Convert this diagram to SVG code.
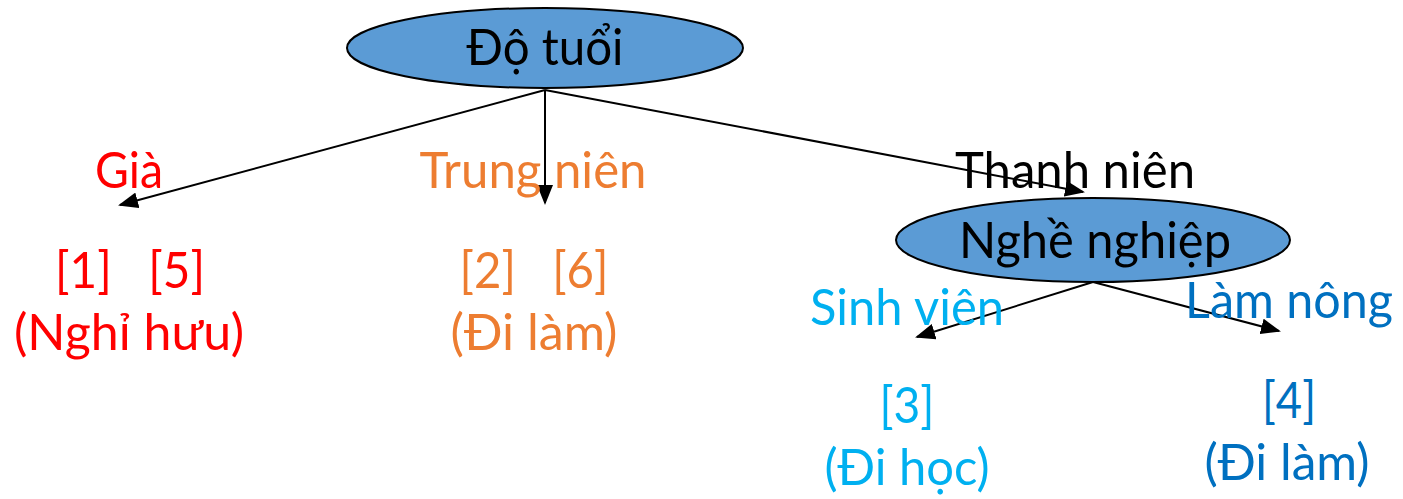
<svg xmlns="http://www.w3.org/2000/svg" width="1403" height="499" viewBox="0 0 1403 499">
<style>
text{font-family:Lato,"Open Sans","Liberation Sans",sans-serif;font-size:50px;text-anchor:middle}
.node{fill:#5B9BD5;stroke:#000;stroke-width:2}
.edge{stroke:#000;stroke-width:2;fill:none;marker-end:url(#ah)}
.red{fill:#FF0000}.org{fill:#ED7D31}.cyan{fill:#00B0F0}.blue{fill:#0070C0}.blk{fill:#000}
</style>
<defs>
<marker id="ah" markerWidth="10" markerHeight="8" refX="9" refY="4" orient="auto" markerUnits="strokeWidth">
<path d="M0,0 L10,4 L0,8 Z" fill="#000"/>
</marker>
</defs>
<rect width="1403" height="499" fill="#fff"/>
<g id="connectors">
<line class="edge" x1="545" y1="90" x2="120" y2="205"/>
<line class="edge" x1="545" y1="90" x2="545" y2="203"/>
<line class="edge" x1="545" y1="90" x2="1083" y2="192"/>
<line class="edge" x1="1093" y1="282" x2="917" y2="337"/>
<line class="edge" x1="1093" y1="282" x2="1279" y2="331"/>
</g>
<g id="do-tuoi">
<ellipse class="node" cx="545" cy="48" rx="198" ry="40"/>
<text class="blk" x="545" y="65" textLength="157" lengthAdjust="spacingAndGlyphs">Độ tuổi</text>
</g>
<g id="gia">
<text class="red" x="129" y="188" textLength="68" lengthAdjust="spacingAndGlyphs">Già</text>
<text class="red" x="130" y="288" xml:space="preserve" textLength="150" lengthAdjust="spacingAndGlyphs">[1]   [5]</text>
<text class="red" x="129" y="350" textLength="230" lengthAdjust="spacingAndGlyphs">(Nghỉ hưu)</text>
</g>
<g id="trung-nien">
<text class="org" x="533" y="188" textLength="227" lengthAdjust="spacingAndGlyphs">Trung niên</text>
<text class="org" x="534" y="288" xml:space="preserve" textLength="149" lengthAdjust="spacingAndGlyphs">[2]   [6]</text>
<text class="org" x="534" y="350" textLength="167" lengthAdjust="spacingAndGlyphs">(Đi làm)</text>
</g>
<g id="thanh-nien">
<text class="blk" x="1075" y="188" textLength="240" lengthAdjust="spacingAndGlyphs">Thanh niên</text>
</g>
<g id="nghe-nghiep">
<ellipse class="node" cx="1093" cy="240" rx="197" ry="42"/>
<text class="blk" x="1095" y="258" textLength="272" lengthAdjust="spacingAndGlyphs">Nghề nghiệp</text>
</g>
<g id="sinh-vien">
<text class="cyan" x="907" y="325" textLength="194" lengthAdjust="spacingAndGlyphs">Sinh viên</text>
<text class="cyan" x="907" y="423" textLength="55" lengthAdjust="spacingAndGlyphs">[3]</text>
<text class="cyan" x="907" y="485" textLength="165" lengthAdjust="spacingAndGlyphs">(Đi học)</text>
</g>
<g id="lam-nong">
<text class="blue" x="1289" y="318" textLength="208" lengthAdjust="spacingAndGlyphs">Làm nông</text>
<text class="blue" x="1289" y="418" textLength="54" lengthAdjust="spacingAndGlyphs">[4]</text>
<text class="blue" x="1287" y="480" textLength="165" lengthAdjust="spacingAndGlyphs">(Đi làm)</text>
</g>
</svg>
